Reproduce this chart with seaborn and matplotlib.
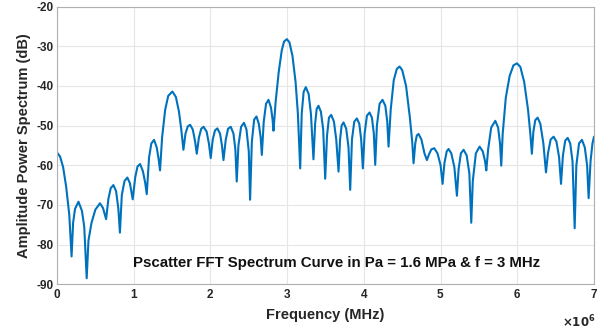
import pandas as pd
import numpy as np

import seaborn as sns
import matplotlib
matplotlib.use('Agg')
import matplotlib.pyplot as plt
from matplotlib.ticker import ScalarFormatter

# =========================
#  DATA
# =========================

# frequency in MHz, power in dB
freq_mhz = [
    0.00, 0.04, 0.08, 0.12, 0.16, 0.19,
    0.21, 0.235, 0.28, 0.325, 0.355, 0.387,
    0.41, 0.45, 0.50, 0.56, 0.60, 0.64,
    0.67, 0.70, 0.735, 0.77, 0.80, 0.82,
    0.845, 0.88, 0.917, 0.95, 0.987,
    1.02, 1.05, 1.083, 1.12, 1.15, 1.17,
    1.20, 1.23, 1.265, 1.30, 1.325, 1.343,
    1.37, 1.41, 1.45, 1.504, 1.55, 1.59, 1.62, 1.648,
    1.675, 1.705, 1.735, 1.77, 1.80, 1.822,
    1.85, 1.88, 1.91, 1.95, 1.98, 2.004,
    2.03, 2.06, 2.09, 2.125, 2.15, 2.17,
    2.20, 2.23, 2.265, 2.30, 2.325, 2.343,
    2.365, 2.40, 2.437, 2.47, 2.50, 2.517,
    2.54, 2.57, 2.60, 2.63, 2.655, 2.67,
    2.695, 2.725, 2.757, 2.79, 2.81, 2.822,
    2.85, 2.89, 2.93, 2.96, 2.996, 3.03, 3.07, 3.11, 3.14, 3.17,
    3.19, 3.215, 3.243, 3.28, 3.31, 3.343,
    3.365, 3.385, 3.408, 3.44, 3.47, 3.496,
    3.52, 3.545, 3.574, 3.61, 3.64, 3.67,
    3.69, 3.71, 3.735, 3.77, 3.80, 3.822,
    3.845, 3.875, 3.909, 3.94, 3.965, 3.987,
    4.01, 4.04, 4.074, 4.105, 4.13, 4.148,
    4.17, 4.205, 4.243, 4.28, 4.305, 4.322,
    4.35, 4.39, 4.43, 4.465, 4.50, 4.55, 4.60, 4.63, 4.648,
    4.67, 4.69, 4.713, 4.75, 4.79, 4.822,
    4.85, 4.88, 4.917, 4.96, 5.00, 5.026,
    5.05, 5.08, 5.104, 5.14, 5.18, 5.213,
    5.235, 5.265, 5.30, 5.34, 5.375, 5.40,
    5.42, 5.46, 5.509, 5.55, 5.58, 5.596,
    5.62, 5.66, 5.713, 5.75, 5.775, 5.791,
    5.81, 5.85, 5.90, 5.95, 5.996, 6.04, 6.09, 6.14, 6.17, 6.19,
    6.21, 6.235, 6.265, 6.30, 6.34, 6.374,
    6.40, 6.435, 6.474, 6.51, 6.545, 6.57,
    6.595, 6.625, 6.657, 6.69, 6.72, 6.748,
    6.77, 6.805, 6.843, 6.88, 6.91, 6.93,
    6.955, 6.98, 7.00,
]

power_db = [
    -56.8, -57.8, -60.5, -65.5, -72.5, -83.0,
    -74.5, -71.0, -69.2, -71.5, -75.5, -88.5,
    -79.0, -74.5, -71.2, -69.6, -70.8, -73.6,
    -68.5, -65.8, -65.0, -66.5, -71.0, -77.0,
    -67.5, -64.0, -63.1, -64.5, -68.6,
    -63.0, -60.3, -59.7, -61.5, -64.5, -67.3,
    -58.0, -54.5, -53.6, -55.5, -58.5, -61.3,
    -53.0, -46.0, -42.5, -41.4, -42.8, -46.5, -51.0, -56.1,
    -52.0, -50.2, -49.8, -51.0, -54.0, -57.1,
    -53.0, -50.8, -50.3, -51.5, -54.5, -58.2,
    -53.5, -51.2, -50.7, -52.0, -55.0, -58.7,
    -53.5, -50.8, -50.3, -52.0, -56.0, -64.1,
    -55.0, -50.3, -49.3, -51.0, -56.5, -68.7,
    -54.0, -48.5, -47.7, -49.5, -53.0, -57.4,
    -49.0, -44.5, -43.5, -45.5, -48.5, -51.3,
    -44.0, -36.5, -31.0, -28.8, -28.2, -29.0, -32.5, -39.0, -47.0, -60.8,
    -47.0, -41.5, -40.3, -42.0, -47.0, -58.5,
    -49.5, -45.8, -45.0, -46.5, -51.0, -63.4,
    -52.5, -48.0, -47.3, -49.0, -53.5, -61.6,
    -53.5, -50.0, -49.2, -50.8, -55.5, -66.2,
    -53.5, -49.0, -48.2, -49.5, -53.5, -60.8,
    -52.0, -47.5, -46.7, -48.0, -52.0, -59.9,
    -50.0, -44.5, -43.5, -45.0, -49.0, -55.3,
    -46.0, -38.5, -35.7, -35.1, -36.0, -40.0, -48.0, -54.0, -59.5,
    -54.5, -52.5, -52.1, -53.5, -57.0, -58.7,
    -57.2, -56.0, -55.7, -57.0, -60.0, -64.7,
    -59.5, -56.5, -55.9, -57.0, -60.5, -67.7,
    -61.0, -57.0, -56.1, -57.5, -62.0, -74.5,
    -64.0, -57.0, -55.3, -56.5, -59.0, -61.3,
    -56.0, -50.5, -48.8, -50.5, -54.5, -60.1,
    -52.0, -43.0, -37.5, -34.8, -34.3, -35.2, -39.0, -46.0, -52.0, -57.1,
    -51.5, -48.6, -48.0, -49.5, -54.5, -61.8,
    -57.0, -53.5, -52.8, -54.0, -58.0, -64.7,
    -57.5, -53.8, -53.1, -54.5, -59.0, -75.9,
    -60.0, -54.5, -53.6, -55.5, -60.0, -68.3,
    -59.0, -54.5, -52.8,
]

x_ticks = [0, 1, 2, 3, 4, 5, 6, 7]
y_ticks = [-90, -80, -70, -60, -50, -40, -30, -20]

TITLE_TEXT = 'Pscatter FFT Spectrum Curve in Pa = 1.6 MPa & f = 3 MHz'

# =========================
#  PLOT
# =========================

def main():

    data = pd.DataFrame({
        'freq': np.array(freq_mhz) * 1e6,
        'power': power_db,
    })

    sns.set_theme(style='whitegrid')
    plt.rcParams['font.family'] = ['Liberation Sans', 'DejaVu Sans']
    plt.rcParams['font.weight'] = 'bold'
    plt.rcParams['axes.unicode_minus'] = False
    plt.rcParams['mathtext.default'] = 'bf'

    fig = plt.figure(figsize=(6, 3.32), dpi=100)
    ax = fig.add_axes([0.095, 0.144, 0.895, 0.836])

    sns.lineplot(data=data, x='freq', y='power', ax=ax,
                 color='#0072BD', linewidth=1.5, estimator=None, sort=False)

    ax.set_xlim(0, 7e6)
    ax.set_ylim(-90, -20)
    ax.set_xticks([t * 1e6 for t in x_ticks])
    ax.set_yticks(y_ticks)

    # tick labels in MHz units, multiplier drawn by hand (MATLAB style)
    fmt = ScalarFormatter(useMathText=True)
    fmt.set_powerlimits((0, 0))
    ax.xaxis.set_major_formatter(fmt)
    ax.xaxis.get_offset_text().set_visible(False)
    fig.text(0.992, 0.006, r'$\times\mathbf{10^{6}}$', ha='right', va='bottom',
             fontsize=8.5, color='#262626')

    ax.tick_params(axis='both', labelsize=8.5, colors='#262626', length=3,
                   direction='in', pad=2.5, width=0.6)
    ax.tick_params(axis='both', color='#9a9a9a')
    for lab in ax.get_xticklabels() + ax.get_yticklabels():
        lab.set_fontweight('bold')

    ax.set_xlabel('Frequency (MHz)', fontsize=10.5, fontweight='bold',
                  color='#262626', labelpad=5)
    ax.set_ylabel('Amplitude Power Spectrum (dB)', fontsize=10.5,
                  fontweight='bold', color='#262626', labelpad=4)

    ax.grid(True, color='#e6e6e6', linewidth=0.8)
    for sp in ax.spines.values():
        sp.set_color('#b0b0b0')
        sp.set_linewidth(0.8)

    ax.text(3.64e6, -84.6, TITLE_TEXT, ha='center', va='center',
            fontsize=10.8, fontweight='bold', color='#111111')

    fig.savefig('out.png', dpi=100)
    plt.close(fig)


if __name__ == '__main__':
    main()
